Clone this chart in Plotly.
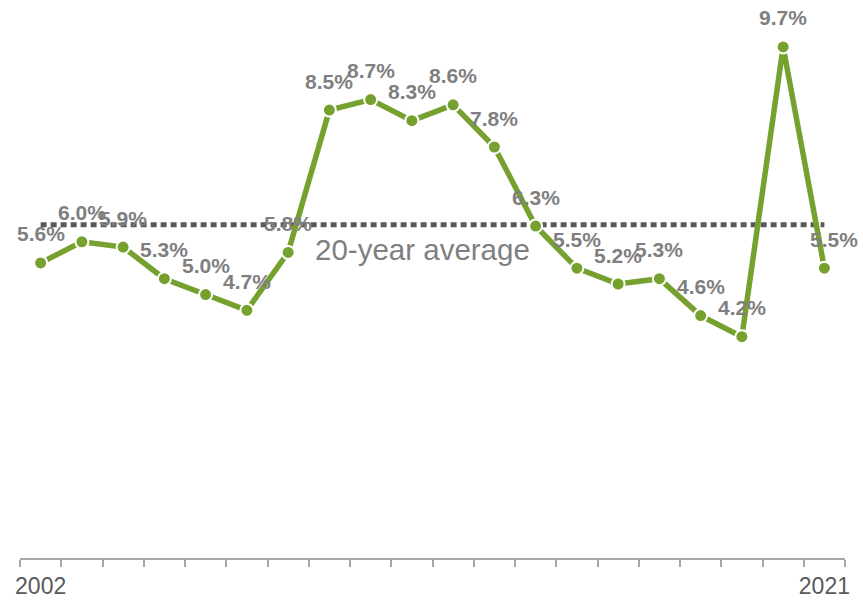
import plotly.graph_objects as go

years = list(range(2002, 2022))
rates = [5.6, 6.0, 5.9, 5.3, 5.0, 4.7, 5.8, 8.5, 8.7, 8.3,
         8.6, 7.8, 6.3, 5.5, 5.2, 5.3, 4.6, 4.2, 9.7, 5.5]
label_dx = [0] * 19 + [10]
tick_labels = {2002: "2002", 2021: "2021"}

avg = sum(rates) / len(rates)

green = "#76A12F"
label_grey = "#7F7F7F"
axis_grey = "#A6A6A6"

fig = go.Figure()

# 20-year average reference line
fig.add_trace(go.Scatter(
    x=[years[0], years[-1]], y=[avg, avg], mode="lines",
    line=dict(color="#595959", width=5, dash="6px,4px"),
    hoverinfo="skip", showlegend=False,
))

# yearly series
fig.add_trace(go.Scatter(
    x=years, y=rates, mode="lines+markers",
    line=dict(color=green, width=5.5),
    marker=dict(size=13, color=green, line=dict(color="white", width=2)),
    showlegend=False,
))

for yr, v, dx in zip(years, rates, label_dx):
    fig.add_annotation(
        x=yr, y=v, text=f"{v:.1f}%", showarrow=False,
        xshift=dx, yshift=29,
        font=dict(family="Liberation Sans, Arial", size=21, color=label_grey, weight="bold"),
    )

fig.add_annotation(
    x=2011.25, y=avg, text="20-year average", showarrow=False, yshift=-25,
    font=dict(family="Liberation Sans, Arial", size=29.5, color=label_grey),
)

boundaries = [y - 0.5 for y in years] + [years[-1] + 0.5]

fig.update_layout(
    width=863, height=600,
    margin=dict(l=20, r=18, t=10, b=42),
    paper_bgcolor="white", plot_bgcolor="white",
    xaxis=dict(
        range=[years[0] - 0.5, years[-1] + 0.5],
        tickvals=list(tick_labels.keys()), ticktext=list(tick_labels.values()),
        ticks="", showgrid=False, zeroline=False, automargin=False,
        showline=True, linecolor=axis_grey, linewidth=2,
        tickfont=dict(family="Liberation Sans, Arial", size=23, color="#595959"),
        ticklabelstandoff=6,
        minor=dict(tickvals=boundaries, ticks="outside", ticklen=7,
                   tickcolor=axis_grey, tickwidth=2, showgrid=False),
    ),
    yaxis=dict(range=[0, 10.4], visible=False, showgrid=False, zeroline=False,
               automargin=False),
)

fig.write_html("out.html")
